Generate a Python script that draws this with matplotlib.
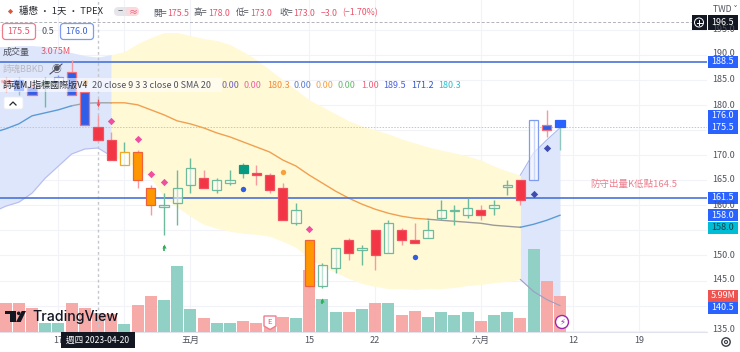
import numpy as np
import matplotlib
matplotlib.use("Agg")
import matplotlib.pyplot as plt
from matplotlib.patches import Rectangle, FancyBboxPatch, Polygon, Circle

plt.rcParams['font.family'] = ['Noto Sans CJK TC', 'DejaVu Sans']

# trading day index, 0 = 2023-04-20
bar_idx = list(range(-7, 36))
high = [185.5,185.5,184.5,185.5,186,189,182.5,178,174.5,172.5,171,164,162.5,167,169.5,167,165.5,167,168.5,
        168,166.5,164.5,160.5,153,148.5,151.5,153.5,152,155,157,155.5,156.5,157,161,160,161.5,160,161,165,165,177,179,177]
body_top = [185,185,183.5,184.5,185.5,186.5,182.5,175.5,173,170.5,170.5,163.5,160,163.5,167.5,165.5,165,165,168,
            166.5,166,163.5,159,153,148,151.5,153,151.5,155,156.5,155,153,155,159,159,159.5,159,160,164,165,177,176,177]
body_bot = [184.5,183,182,184,184.5,182,176,173,169,168,165,160,159.7,160.5,164,163.5,163,164.5,166.5,
            166,163,157,156.5,144,144,147.5,150.5,151,150,150.5,153,152.5,153.5,157.5,158.8,158,158,159.5,163.6,161,165,175,175.5]
low = [182.5,182,182,179.5,184.5,182,176,173,169,168,163.5,158,154,156,162.5,163.5,162.5,164,165.5,
       164,162.5,157,156,143.5,143.5,146.5,149,148,147,150.5,152,152.5,153.5,157,156,157.5,157,158,162,160,165,173.5,171]
styles = ['bluered','blue','bluered','hgreen','hblue','bluered','bluered','red','red','horange','orange','orange','hgreen',
          'hgreen','hgreen','red','hgreen','hgreen','green','red','red','red','hgreen','orange','hgreen','hgreen','red',
          'hgreen','red','hgreen','red','red','hgreen','hgreen','hgreen','hgreen','red','hgreen','hgreen','red','hblue','bluered','blue']

volume = [4.8,4.8,4.0,1.5,1.5,4.8,4.0,3.075,3.0,1.3,4.5,6.0,5.3,11.0,3.8,2.2,1.5,1.5,1.7,1.5,1.7,2.5,2.3,10.2,5.5,3.3,3.2,3.7,
          4.8,4.7,2.8,3.5,2.5,3.3,2.8,3.3,1.8,2.7,3.3,2.3,13.8,8.5,5.99]
vol_up = [1,1,1,0,0,1,1,1,1,0,1,1,0,0,0,1,0,0,1,1,1,1,0,1,0,0,1,0,1,0,1,1,0,0,0,0,1,0,0,1,0,1,1]

band_idx = list(range(-8, 36))
upper = [191.6,191.6,191.8,191.8,191.6,191,190.4,189.8,189.5,190,190.6,192.2,193.4,194.4,194.4,193.8,193.2,192.8,192,190.6,189,
         187,185,183,181,179.6,178.2,176.8,175.8,175,174.2,173.2,172.4,171.6,171,170.4,169.8,169,167.8,166.8,166,170.4,173,175.4]
middle = [174.4,175.2,176.2,177.8,178.4,179,179.8,180.3,180.4,180.4,180.4,180,179,178,176.8,176.2,175.4,174.4,173.6,172.6,171.6,
          170.6,169,167.8,166,164.4,162.8,161.4,160.2,159.2,158.4,157.8,157.4,157.2,157,156.8,156.6,156.4,156,155.8,155.6,156.2,157,158]
lower = [158.6,159.8,160.6,162.4,165.4,167.8,170.2,171.2,171.4,169.8,168.8,167.4,165.4,161.6,159.6,157.8,156.2,155.4,154.8,154.4,154.2,
         153.8,152.8,151.6,149.4,147.8,146.6,145.4,144.4,143.8,143.4,143.4,143.2,143.4,143.4,143.6,144,144.2,144.6,144.8,145.2,142.8,141.2,140]

pink_x = [1, 3, 4, 5, 16]
pink_y = [176.8, 173.2, 166.2, 164.6, 155.2]
navy_x = [33, 34]
navy_y = [162.2, 171.4]
dot_x = [11, 24]
dot_y = [163.2, 149.6]
orange_x = [-1, 14]
orange_y = [184.6, 166.6]
arrow_x = [5, 17]
arrow_y = [151.8, 141.2]

h_levels = [188.5, 161.5]
price_ticks = [195, 190, 185, 180, 175, 170, 165, 160, 155, 150, 145, 140, 135]
x_ticks = [-3, 2, 7, 16, 21, 29, 36, 41]
x_labels = ['17', '', '五月', '15', '22', '六月', '12', '19']
grid_x = [-3, 2, 7, 16, 21, 29, 36, 41]

W, H = 740, 352
plot_w, plot_h = 707, 331.5
pos = [0, 1 - plot_h / H, plot_w / W, plot_h / H]
xlim = ((0 - 98) / 13.2, (plot_w - 98) / 13.2)
ylim = (170 - (plot_h - 155) / 5.02, 170 + 155 / 5.02)

fig = plt.figure(figsize=(W / 100, H / 100), dpi=100, facecolor='white')

# bands at the bottom
ax = fig.add_axes(pos, zorder=1)
ax.set_xlim(xlim)
ax.set_ylim(ylim)
bx = np.array(band_idx)
up = np.array(upper)
lo = np.array(lower)
ax.fill_between(bx, lo, up, where=bx <= 1, color='#dee6fc', lw=0)
ax.fill_between(bx, lo, up, where=(bx >= 1) & (bx <= 32), color='#fff9d6', lw=0)
ax.fill_between(bx, lo, up, where=bx >= 32, color='#dee6fc', lw=0)
for g in grid_x:
    ax.axvline(g, color='#f1f3f8', lw=0.8, zorder=0)
for p in price_ticks:
    ax.axhline(p, color='#f1f3f8', lw=0.8, zorder=0)
ax.set_xticks(x_ticks)
ax.set_xticklabels(x_labels, fontsize=6.5, color='#50535e')
ax.set_yticks([])
ax.tick_params(axis='x', length=0, pad=3)
for s in ['top', 'left', 'right']:
    ax.spines[s].set_visible(False)
ax.spines['bottom'].set_color('#e0e3eb')

# volume goes over the bands, under the candles
ax_vol = fig.add_axes(pos, zorder=2, sharex=ax)
ax_vol.patch.set_alpha(0)
ax_vol.set_ylim(0, plot_h / 6.0)
vol_colors = ['#f7a9a7' if u else '#8fd0c4' for u in vol_up]
ax_vol.bar(bar_idx, volume, width=0.92, color=vol_colors, alpha=0.98, lw=0)
ax_vol.axis('off')

ax_top = fig.add_axes(pos, zorder=3, sharex=ax, sharey=ax)
ax_top.patch.set_alpha(0)
ax_top.axis('off')

# middle and band lines
m = np.array(middle)
ax_top.plot(bx[bx <= -2], m[bx <= -2], color='#5b9bd5', lw=1)
ax_top.plot(bx[(bx >= -2) & (bx <= 1)], m[(bx >= -2) & (bx <= 1)], color='#9aa6a8', lw=1)
ax_top.plot(bx[(bx >= 1) & (bx <= 25)], m[(bx >= 1) & (bx <= 25)], color='#f0a050', lw=1)
ax_top.plot(bx[(bx >= 25) & (bx <= 32)], m[(bx >= 25) & (bx <= 32)], color='#9a9a9a', lw=1)
ax_top.plot(bx[bx >= 32], m[bx >= 32], color='#5b9bd5', lw=1)
ax_top.plot(bx[bx <= 1], lo[bx <= 1], color='#b8bdf0', lw=0.8)
ax_top.plot(bx[bx >= 32], lo[bx >= 32], color='#9a9fc0', lw=0.8)
ax_top.plot(bx[bx >= 32], up[bx >= 32], color='#aab8ee', lw=0.8)

for lev in h_levels:
    ax_top.axhline(lev, color='#4a72d8', lw=1.2, zorder=2)
ax_top.axhline(175.5, color='#b9c4ee', lw=0.7, ls=(0, (1.5, 1.5)), zorder=1)
ax_top.axhline(196.5, color='#b0b3bb', lw=0.7, ls=(0, (3, 2)), zorder=1)
ax_top.axvline(0, color='#c4c6cc', lw=1, ls=(0, (2, 2)), zorder=1)

candle_style = {
    'red': ('#f23645', '#f2505e', '#f59aa2'),
    'orange': ('#ff9800', '#f0603a', '#f59aa2'),
    'green': ('#089981', '#089981', '#6fbf9f'),
    'blue': ('#2962ff', '#2962ff', '#8fc7c0'),
    'bluered': ('#2f5fe8', '#f2707c', '#f59aa2'),
    'hgreen': ((1, 1, 1, 0.55), '#6dbb9c', '#6dbb9c'),
    'horange': ((1, 1, 1, 0.8), '#f5a623', '#6dbb9c'),
    'hblue': ((1, 1, 1, 0.6), '#7f9cf0', '#7f9cf0'),
}
for i, x in enumerate(bar_idx):
    face, edge, wick = candle_style[styles[i]]
    ax_top.vlines(x, low[i], high[i], color=wick, lw=1, zorder=3)
    ax_top.bar(x, body_top[i] - body_bot[i], bottom=body_bot[i], width=0.7,
               facecolor=face, edgecolor=edge, lw=0.9, zorder=4)

ax_top.scatter(pink_x, pink_y, marker='D', s=14, color='#f04fa0', lw=0, zorder=5)
ax_top.scatter(navy_x, navy_y, marker='D', s=14, color='#3f4db0', lw=0, zorder=5)
ax_top.scatter(dot_x, dot_y, marker='o', s=15, color='#2f5fe0', lw=0, zorder=5)
ax_top.scatter(orange_x, orange_y, marker='o', s=15, color='#f7a13e', lw=0, zorder=5)
ax_top.scatter(arrow_x, arrow_y, marker='^', s=9, color='#2fae5a', lw=0, zorder=5)
ax_top.vlines(arrow_x, np.array(arrow_y) - 0.9, arrow_y, color='#2fae5a', lw=1.2, zorder=5)
ax_top.scatter([0], [180], marker='v', s=8, color='#f2505e', lw=0, zorder=5)
ax_top.vlines([0], 180, 181.2, color='#f2505e', lw=1, zorder=5)
ax_top.set_xlim(xlim)
ax_top.set_ylim(ylim)

# everything else is page furniture, in pixels
ov = fig.add_axes([0, 0, 1, 1], zorder=5)
ov.set_xlim(0, W)
ov.set_ylim(H, 0)
ov.axis('off')
ov.patch.set_alpha(0)

GREY = '#50535e'
RED = '#e8536a'

ov.add_patch(Rectangle((0, 78), 222, 14, fc='white', alpha=0.6, lw=0))

ov.text(19, 11, '穩懋 · 1天 · TPEX', fontsize=6.8, color='#26282e', va='center')
ov.add_patch(FancyBboxPatch((114, 7), 24, 9, boxstyle='round,pad=0,rounding_size=4.5', fc='#e6e6ea', ec='none'))
ov.add_patch(FancyBboxPatch((126, 7), 13, 9, boxstyle='round,pad=0,rounding_size=4.5', fc='#fbd9de', ec='none'))
ov.text(120, 11.5, '−', fontsize=6.5, color=GREY, ha='center', va='center')
ov.text(133, 11.5, '≈', fontsize=6.5, color=RED, ha='center', va='center')
ov.scatter([10], [11], marker='D', s=7, color='#e0553a', lw=0)

head_x = [153, 167, 194, 208, 236, 250, 279, 293, 321, 342]
head_t = ['開=', '175.5', '高=', '178.0', '低=', '173.0', '收=', '173.0', '−3.0', '(−1.70%)']
head_c = [GREY, RED, GREY, RED, GREY, RED, GREY, RED, RED, RED]
for x, t, c in zip(head_x, head_t, head_c):
    ov.text(x, 13, t, fontsize=6.3, color=c, va='center')

ov.add_patch(FancyBboxPatch((2.5, 23.5), 33, 16, boxstyle='round,pad=0,rounding_size=3', fc='white', ec='#ef7d8c', lw=0.9))
ov.add_patch(FancyBboxPatch((60.5, 23.5), 33, 16, boxstyle='round,pad=0,rounding_size=3', fc='white', ec='#7f9cf0', lw=0.9))
ov.text(19, 31.5, '175.5', fontsize=6.5, color=RED, ha='center', va='center')
ov.text(48, 31.5, '0.5', fontsize=6.5, color=GREY, ha='center', va='center')
ov.text(77, 31.5, '176.0', fontsize=6.5, color='#3a62d8', ha='center', va='center')

ov.text(3, 52, '成交量', fontsize=6.5, color=GREY, va='center')
ov.text(41, 52, '3.075M', fontsize=6.5, color=RED, va='center')
ov.text(3, 69, '詩魂BBKD', fontsize=6.5, color='#b8bac2', va='center')
ov.text(56, 69, '◉', fontsize=7, color=GREY, ha='center', va='center')
ov.plot([50, 62], [74, 64], color=GREY, lw=0.8)

ov.text(3, 85, '詩魂MJ指標國際版V4', fontsize=6.5, color='#26282e', va='center')
ov.text(92, 85, '20 close 9 3 3 close 0 SMA 20', fontsize=6.5, color=GREY, va='center')
leg_x = [222, 244, 267, 294, 316, 338, 361, 383, 411, 438]
leg_t = ['0.00', '0.00', '180.3', '0.00', '0.00', '0.00', '1.00', '189.5', '171.2', '180.3']
leg_c = ['#6f62c8', '#f062a8', '#f58a3c', '#5b7fd6', '#f7a13e', '#66bb6a', '#f4607a', '#4a62d8', '#2d57c8', '#26c0d0']
for x, t, c in zip(leg_x, leg_t, leg_c):
    ov.text(x, 85, t, fontsize=6.5, color=c, va='center')

ov.add_patch(FancyBboxPatch((4, 97), 19, 12, boxstyle='round,pad=0,rounding_size=2', fc='white', ec='#eceef2', lw=0.6))
ov.plot([10, 13, 16], [105, 102, 105], color='#26282e', lw=0.9)

ov.text(590, 184, '防守出量K低點164.5', fontsize=6.8, color='#ef7d8c', va='center')

# logo
ov.add_patch(Rectangle((5, 311), 11, 3.3, fc='#131722', lw=0))
ov.add_patch(Rectangle((10, 314), 6, 8, fc='#131722', lw=0))
ov.add_patch(Circle((18.7, 313.3), 1.8, fc='#131722', lw=0))
ov.add_patch(Polygon([(21.7, 311), (26, 311), (20.7, 322), (16, 322)], fc='#131722', lw=0))
ov.text(32, 316.5, 'TradingView', family='Inter', fontsize=10.2, weight='medium', color='#131722', va='center')

# E marker and lightning marker
ov.add_patch(Polygon([(264, 316), (276, 316), (276, 326), (270, 329.5), (264, 326)], fc='white', ec='#ef7d8c', lw=1))
ov.text(270, 322, 'E', fontsize=5.5, color='#e8536a', ha='center', va='center')
ov.add_patch(Circle((562, 322), 6.5, fc='white', ec='#9c27b0', lw=1))
ov.text(562, 322, '⚡', family='DejaVu Sans', fontsize=6, color='#9c27b0', ha='center', va='center')

# tooltip under crosshair
ov.add_patch(Rectangle((61, 332), 74, 16, fc='#131722', lw=0))
ov.text(98, 340.5, '週四 2023-04-20', fontsize=6.2, color='white', ha='center', va='center')

# price scale
scale_y = [30, 54, 80, 105, 155, 180, 205, 255, 280, 330]
scale_t = ['195.0', '190.0', '185.0', '180.0', '170.0', '165.0', '160.0', '150.0', '145.0', '135.0']
for y, t in zip(scale_y, scale_t):
    ov.text(724, y, t, fontsize=6.5, color=GREY, ha='center', va='center')
ov.text(725, 9, 'TWD ˅', fontsize=6.2, color=GREY, ha='center', va='center')

tag_y = [61.5, 116, 127.5, 197.5, 215, 227.5, 296, 308]
tag_t = ['188.5', '176.0', '175.5', '161.5', '158.0', '158.0', '5.99M', '140.5']
tag_c = ['#2962ff', '#2962ff', '#2962ff', '#2962ff', '#2962ff', '#00bcd4', '#ef5350', '#2962ff']
tag_fg = ['white', 'white', 'white', 'white', 'white', '#10424a', 'white', 'white']
for y, t, c, f in zip(tag_y, tag_t, tag_c, tag_fg):
    ov.add_patch(Rectangle((708, y - 6), 30, 12, fc=c, lw=0))
    ov.text(723, y, t, fontsize=6.5, color=f, ha='center', va='center')

ov.add_patch(Rectangle((692, 15), 14.5, 15, fc='#131722', lw=0))
ov.add_patch(Rectangle((707.5, 15), 30.5, 15, fc='#131722', lw=0))
ov.text(723, 22.5, '196.5', fontsize=6.5, color='white', ha='center', va='center')
ov.add_patch(Circle((699, 22.5), 4.5, fc='none', ec='white', lw=0.7))
ov.plot([696.5, 701.5], [22.5, 22.5], color='white', lw=0.7)
ov.plot([699, 699], [20, 25], color='white', lw=0.7)

ov.add_patch(Circle((726, 342), 4.2, fc='white', ec='#3a3d45', lw=1))
ov.add_patch(Circle((726, 342), 1.5, fc='white', ec='#3a3d45', lw=0.8))

fig.savefig('out.png', dpi=100)
